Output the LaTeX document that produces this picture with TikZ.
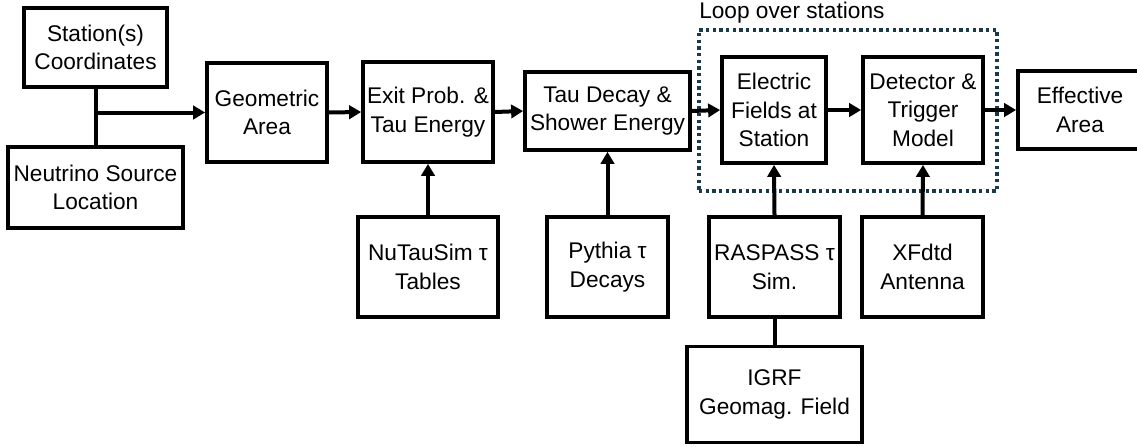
\documentclass[tikz,border=0pt]{standalone}
\usepackage{fontspec}
\setmainfont{Liberation Sans}
\usetikzlibrary{arrows.meta,calc}
\definecolor{loopcol}{HTML}{1B3A4B}
\begin{document}
\begin{tikzpicture}[x=0.75pt,y=-0.75pt,
  blk/.style={draw=black,line width=2.8pt,align=center,inner sep=0pt,
    font=\fontsize{17}{21.5}\selectfont,text=black},
  conn/.style={line width=3pt,draw=black},
  arr/.style={conn,-{Triangle[length=9pt,width=10pt]}},
  looprect/.style={draw=loopcol,line width=2.6pt,dash pattern=on 2.6pt off 2.4pt}
]
\useasboundingbox (0,0) rectangle (1137,446);
\clip (0,0) rectangle (1137,446);
\node[blk,minimum width=143*0.75pt,minimum height=79*0.75pt] (station) at (95.5,47.5) {Station(s)\\Coordinates};
\node[blk,minimum width=175*0.75pt,minimum height=81*0.75pt] (neutrino) at (95.5,187.5) {Neutrino Source\\Location};
\node[blk,minimum width=120*0.75pt,minimum height=99*0.75pt] (geom) at (267,112.5) {Geometric\\Area};
\node[blk,minimum width=130*0.75pt,minimum height=100*0.75pt] (exit) at (428,112) {Exit Prob. \&\\Tau Energy};
\node[blk,minimum width=165*0.75pt,minimum height=78*0.75pt] (taudec) at (607.5,111) {Tau Decay \&\\Shower Energy};
\node[blk,minimum width=104*0.75pt,minimum height=106*0.75pt] (efield) at (774,110) {Electric\\Fields at\\Station};
\node[blk,minimum width=120*0.75pt,minimum height=106*0.75pt] (detector) at (923,110) {Detector \&\\Trigger\\Model};
\node[blk,minimum width=124*0.75pt,minimum height=78*0.75pt] (effective) at (1080,110) {Effective\\Area};
\node[blk,minimum width=140*0.75pt,minimum height=100*0.75pt] (nutausim) at (428,267) {NuTauSim τ\\Tables};
\node[blk,minimum width=121*0.75pt,minimum height=100*0.75pt] (pythia) at (607.5,267) {Pythia τ\\Decays};
\node[blk,minimum width=131*0.75pt,minimum height=100*0.75pt] (raspass) at (774.5,267) {RASPASS τ\\Sim.};
\node[blk,minimum width=121*0.75pt,minimum height=100*0.75pt] (xfdtd) at (922.5,267) {XFdtd\\Antenna};
\node[blk,minimum width=175*0.75pt,minimum height=96*0.75pt] (igrf) at (774.5,394.5) {IGRF\\Geomag. Field};
% loop box
\node[looprect,minimum width=298*0.75pt,minimum height=161*0.75pt,inner sep=0pt] (loop) at (848,110.5) {};
\node[anchor=west,inner sep=0pt,font=\fontsize{17}{21.5}\selectfont] (looplabel) at (699,13) {Loop over stations};
% connectors
\draw[conn] (station.south) -- (neutrino.north);
\coordinate (j) at (station.south |- geom.west);
\draw[arr] (j) -- (geom.west);
\draw[arr] (geom.east) -- (exit.west);
\draw[arr] (exit.east) -- (taudec.west);
\draw[arr] (taudec.east) -- (efield.west);
\draw[arr] (efield.east) -- (detector.west);
\draw[arr] (detector.east) -- (effective.west);
\draw[arr] (nutausim.north) -- (exit.south);
\draw[arr] (pythia.north) -- (taudec.south);
\draw[arr] (raspass.north) -- (efield.south);
\draw[arr] (xfdtd.north) -- (detector.south);
\draw[conn] (raspass.south) -- (igrf.north);
\end{tikzpicture}
\end{document}
